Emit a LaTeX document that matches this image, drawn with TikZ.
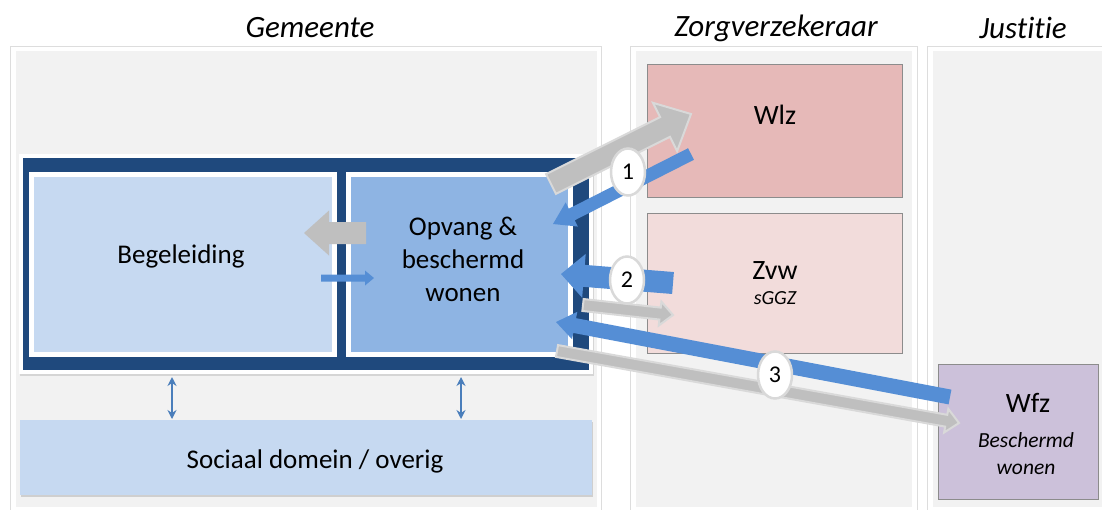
\documentclass[tikz,border=0pt]{standalone}
\usepackage{fontspec}
\setmainfont{Carlito}[Ligatures=NoCommon]
\usetikzlibrary{calc,arrows.meta,shadows,shapes.geometric}
\definecolor{panelgray}{HTML}{F2F2F2}
\definecolor{panelline}{HTML}{DDDDDD}
\definecolor{darkblue}{HTML}{1F497D}
\definecolor{lightblue}{HTML}{C6D9F1}
\definecolor{midblue}{HTML}{8EB4E3}
\definecolor{arrowblue}{HTML}{558ED5}
\definecolor{thinblue}{HTML}{4A7EBB}
\definecolor{arrowgray}{HTML}{BFBFBF}
\definecolor{arrowedge}{HTML}{D9D9D9}
\definecolor{wlzred}{HTML}{E6B9B8}
\definecolor{zvwpink}{HTML}{F2DCDB}
\definecolor{wfzlilac}{HTML}{CCC1DA}
\definecolor{boxedge}{HTML}{8C8C8C}
\newcommand\blockarrow[6]{%
  \coordinate (hb) at ($(#3)!#6!(#2)$);
  \filldraw[#1] ($(#2)!#4!90:(#3)$) -- ($(hb)!#4!90:(#3)$) -- ($(hb)!#5!90:(#3)$) -- (#3)
    -- ($(hb)!#5!-90:(#3)$) -- ($(hb)!#4!-90:(#3)$) -- ($(#2)!#4!-90:(#3)$) -- cycle;}
\tikzset{
  panelout/.style={fill=white, draw=panelline, line width=0.8pt},
  panelin/.style={fill=panelgray, draw=none},
  hdr/.style={font=\fontsize{31}{34}\selectfont\itshape},
  boxnw/.style={anchor=north west, inner sep=0pt, outer sep=0pt},
  bodytxt/.style={font=\fontsize{27}{33}\selectfont, align=center},
  sidetxt/.style={font=\fontsize{28}{33}\selectfont},
  sidebox/.style={boxnw, draw=boxedge, line width=0.7pt},
  bluearr/.style={fill=arrowblue, draw=none},
  grayarr/.style={fill=arrowgray, draw=arrowedge, line width=2pt, line join=miter},
  grayplain/.style={fill=arrowgray, draw=none},
  numcirc/.style={ellipse, draw=arrowedge, line width=2.5pt, fill=white, minimum width=34pt, minimum height=47pt, inner sep=0pt, font=\fontsize{24}{26}\selectfont},
  dblarr/.style={draw=thinblue, line width=1.6pt, {Stealth[length=9pt,width=9pt]}-{Stealth[length=9pt,width=9pt]}}
}
\begin{document}
\begin{tikzpicture}[x=1pt,y=-1pt]
\useasboundingbox (0,0) rectangle (1102,509);
\clip (0,0) rectangle (1102,509);
% column panels
\path[panelout] (10.5,46) rectangle (601.5,511);
\path[panelin] (15.5,51) rectangle (596.5,507);
\path[panelout] (630,46) rectangle (917,511);
\path[panelin] (635.5,51) rectangle (911.5,507);
\path[panelout] (927.5,46) rectangle (1120,511);
\path[panelin] (933,51) rectangle (1120,507);
% headers
\node[hdr] (hG) at (310,28) {Gemeente};
\node[hdr] (hZ) at (776,28) {Zorgverzekeraar};
\node[hdr] (hJ) at (1023,28) {Justitie};
% gemeente boxes
\node[boxnw, fill=white, minimum width=574pt, minimum height=220pt, drop shadow={opacity=0.25, shadow xshift=1pt, shadow yshift=-2pt}] (frameW) at (19,154) {};
\node[boxnw, fill=darkblue, minimum width=566pt, minimum height=212pt] (frameB) at (23,158) {};
\node[boxnw, fill=white, minimum width=308pt, minimum height=185pt] (begW) at (29,172) {};
\node[boxnw, fill=lightblue, minimum width=298pt, minimum height=175pt] (beg) at (34,177) {};
\node[boxnw, fill=white, minimum width=227pt, minimum height=185pt] (opvW) at (346,172) {};
\node[boxnw, fill=midblue, minimum width=217pt, minimum height=175pt] (opv) at (351,177) {};
\node[bodytxt] (begT) at (181,256) {Begeleiding};
\node[bodytxt] (opvT) at (463,259) {Opvang \&\\beschermd\\wonen};
\node[boxnw, fill=lightblue, minimum width=572pt, minimum height=75pt, drop shadow={opacity=0.3, shadow xshift=1pt, shadow yshift=-2pt}] (soc) at (20,420) {};
\node[bodytxt] (socT) at (315,461) {Sociaal domein / overig};
% zorgverzekeraar / justitie boxes
\node[sidebox, fill=wlzred, minimum width=255pt, minimum height=133pt] (wlz) at (647,64) {};
\node[sidetxt] (wlzT) at (775,115) {Wlz};
\node[sidebox, fill=zvwpink, minimum width=255pt, minimum height=140pt] (zvw) at (647,213) {};
\node[sidetxt] (zvwT) at (775,271) {Zvw};
\node[font=\fontsize{20}{24}\selectfont\itshape] (zvwS) at (775,298) {sGGZ};
\node[sidebox, fill=wfzlilac, minimum width=160pt, minimum height=135pt] (wfz) at (938,364) {};
\node[sidetxt] (wfzT) at (1028,403) {Wfz};
\node[font=\fontsize{21.5}{27}\selectfont\itshape, align=center] (wfzS) at (1026,454) {Beschermd\\wonen};
% thin double arrows
\coordinate (x1) at (172,0);
\coordinate (x2) at (461,0);
\draw[dblarr, shorten <=3pt, shorten >=1pt] (frameW.south -| x1) -- (soc.north -| x1);
\draw[dblarr, shorten <=3pt, shorten >=1pt] (frameW.south -| x2) -- (soc.north -| x2);
% inner arrows
\coordinate (gi1) at (366,233); \coordinate (gi2) at (304,233);
\blockarrow{grayplain}{gi1}{gi2}{11pt}{22.5pt}{25pt}
\coordinate (bi1) at (321,278); \coordinate (bi2) at (374,278);
\blockarrow{bluearr}{bi1}{bi2}{3.5pt}{7.5pt}{9pt}
% flow 1
\coordinate (g1a) at (551,184); \coordinate (g1b) at (691,114);
\blockarrow{grayarr}{g1a}{g1b}{11pt}{27pt}{29pt}
\coordinate (b1a) at (691,154); \coordinate (b1b) at (553,224);
\blockarrow{bluearr}{b1a}{b1b}{6.5pt}{13.5pt}{21pt}
% flow 2
\coordinate (b2a) at (673,283); \coordinate (b2b) at (561,274);
\blockarrow{bluearr}{b2a}{b2b}{11pt}{22pt}{23pt}
\coordinate (g2a) at (583,305); \coordinate (g2b) at (673,315);
\blockarrow{grayarr}{g2a}{g2b}{6pt}{12pt}{13pt}
% flow 3
\coordinate (b3a) at (950,397); \coordinate (b3b) at (556,322);
\blockarrow{bluearr}{b3a}{b3b}{7.5pt}{14pt}{19pt}
\coordinate (g3a) at (557,351); \coordinate (g3b) at (959,423);
\blockarrow{grayarr}{g3a}{g3b}{6pt}{12pt}{13pt}
% number circles
\node[numcirc] (c1) at (628,172) {1};
\node[numcirc] (c2) at (627,280) {2};
\node[numcirc] (c3) at (775,375) {3};
\end{tikzpicture}
\end{document}
